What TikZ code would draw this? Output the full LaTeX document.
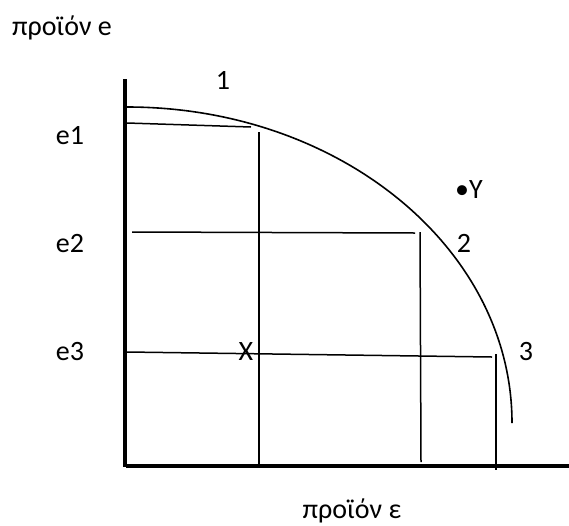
\documentclass[tikz,border=0pt]{standalone}
\usepackage{fontspec}
\setmainfont{Carlito}
\begin{document}
\begin{tikzpicture}[x=1pt,y=-1pt,
  lbl/.style={inner sep=0pt,anchor=base,font=\fontsize{28}{32}\selectfont},
  axis/.style={line width=4pt},
  thin/.style={line width=1.5pt},
  crv/.style={line width=1.6pt}]
\useasboundingbox (0,0) rectangle (569,525);
% axes
\coordinate (ytop) at (125,79);
\coordinate (ybot) at (125,467);
\coordinate (xl) at (126,466);
\coordinate (xr) at (569,466);
\draw[axis] (ytop) -- (ybot);
\draw[axis] (xl) -- (xr);
% curve (quarter ellipse)
\coordinate (cstart) at (127,107);
\draw[crv] (cstart) arc[start angle=90,end angle=0,x radius=385,y radius=-316];
% grid lines
\coordinate (a1) at (127,123); \coordinate (a2) at (251,127);
\coordinate (b1) at (259,132); \coordinate (b2) at (259,466);
\coordinate (c1) at (132,232); \coordinate (c2) at (415,233);
\coordinate (d1) at (420,232); \coordinate (d2) at (421,462);
\coordinate (f1) at (127,352); \coordinate (f2) at (492,357);
\coordinate (g1) at (496,354); \coordinate (g2) at (496,470);
\draw[thin] (a1) -- (a2);
\draw[thin] (b1) -- (b2);
\draw[thin] (c1) -- (c2);
\draw[thin] (d1) -- (d2);
\draw[thin] (f1) -- (f2);
\draw[thin] (g1) -- (g2);
% labels
\node[lbl] (ylab) at (62,35) {προϊόν e};
\node[lbl] (xlab) at (352,518) {προϊόν ε};
\node[lbl] (n1) at (223,89) {1};
\node[lbl] (n2) at (464,252) {2};
\node[lbl] (n3) at (526,360) {3};
\node[lbl] (e1) at (70,144) {e1};
\node[lbl] (e2) at (70,252) {e2};
\node[lbl] (e3) at (70,360) {e3};
\node[lbl] (X) at (246,360) {X};
\node[lbl] (Y) at (469,198) {•Y};
\end{tikzpicture}
\end{document}
